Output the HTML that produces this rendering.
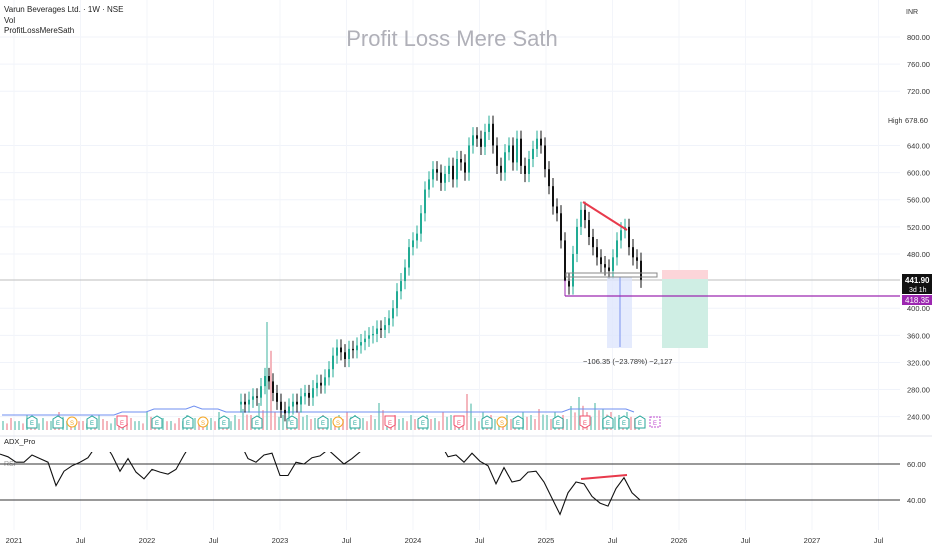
<!DOCTYPE html>
<html><head><meta charset="utf-8"><style>
body{margin:0;background:#fff;font-family:"Liberation Sans",sans-serif}
svg text{font-family:"Liberation Sans",sans-serif}
</style></head><body>
<svg id="c" width="932" height="550" viewBox="0 0 932 550">
<g id="grid"></g>
<text x="452" y="46" font-size="22" fill="#b0b0b8" text-anchor="middle">Profit Loss Mere Sath</text>
<text x="4" y="12" font-size="8" fill="#222">Varun Beverages Ltd. · 1W · NSE</text>
<text x="4" y="23" font-size="8" fill="#222">Vol</text>
<text x="4" y="33" font-size="8" fill="#222">ProfitLossMereSath</text>
<text x="906" y="14" font-size="7" fill="#333">INR</text>
<g id="vol"></g><g id="price"></g><g id="rsi"></g><g id="axis"></g>
</svg>
<script>
const NS="http://www.w3.org/2000/svg";
const svg=document.getElementById('c');
function mk(tag,at,parent){const e=document.createElementNS(NS,tag);for(const k in at)e.setAttribute(k,at[k]);(parent||svg).appendChild(e);return e;}

// ---- data ----
const priceTicks=[800,760,720,640,600,560,520,480,400,360,320,280,240];
const timeLabels=["2021","Jul","2022","Jul","2023","Jul","2024","Jul","2025","Jul","2026","Jul","2027","Jul"];
const closes=[262,258,265,270,268,285,300,292,275,262,250,245,255,262,258,270,275,268,282,290,286,298,310,330,342,335,325,340,338,345,350,355,360,362,370,368,375,385,400,425,440,460,490,500,510,540,575,590,605,600,585,598,610,590,620,615,600,640,655,650,638,660,672,640,610,600,630,640,615,650,610,598,620,635,650,640,605,580,550,540,500,440,432,480,520,545,530,505,490,475,465,460,455,475,500,515,520,490,475,470,442];
const volumes=[3,4,3,5,3,4,3,6,3,4,3,4,5,3,4,3,4,3,6,3,4,3,4,5,4,3,4,6,4,5,7,5,9,36,6,5,4,6,5,4,5,4,5,6,5,4,5,9,4,5,4,5,4,5,4,6,5,4,12,4,6,5,4,5,4,6,5,7,5,6,5,8,11,6,9,7,6,5,6,4];
const volMA=[5,5,5,5,5,5,5,5,5,5,5,5,5,5,5,6,6,6,6,7,7,7,7,7,8,7,7,7,6,6,6,6,6,6,6,6,6,6,6,6,6,6,6,6,6,6,6,6,6,6,6,6,6,6,6,6,6,6,6,6,6,6,6,6,6,6,6,6,6,6,6,7,7,7,7,7,7,7,7,6];
const rsi=[65.5,64,61,61,65,63,61,48,56,59,61,63.5,70,72,65,56,63,55.5,51.7,57,55.5,54.4,57,65,72,72,72,72,72,72,72,63,61,65,66,53.6,53.6,61,60,63.5,64.5,68,64,60,63,66.7,72,72,72,72,72,72,72,72,72,72,64,65,61,66,61.5,59,49,58,50,51,55.5,56,50,41,32,44,50,49,42,38.3,36.6,46.4,52.4,44,40];
const events=[[32,"E"],[58,"E"],[72,"S"],[92,"E"],[122,"R"],[157,"E"],[188,"E"],[203,"S"],[224,"E"],[257,"E"],[292,"E"],[323,"E"],[338,"S"],[355,"E"],[390,"R"],[423,"E"],[459,"R"],[487,"E"],[502,"S"],[518,"E"],[558,"E"],[585,"R"],[608,"E"],[624,"E"],[640,"E"]];

// ---- axes ----
const py=v=>37+(800-v)*0.678;
const px=i=>240+4*i;
const ry=v=>500-(v-40)*1.8;
const rx=i=>8*i;

const grid=document.getElementById('grid');
priceTicks.forEach(t=>{const l=mk('line',{x1:0,x2:900,y1:py(t),y2:py(t),stroke:'#f0f3fa'},grid);});
timeLabels.forEach((t,i)=>{const x=14+i*66.5;const l=mk('line',{x1:x,x2:x,y1:0,y2:530,stroke:'#f3f5fa'},grid);});

const axis=document.getElementById('axis');
priceTicks.forEach(t=>{const e=mk('text',{x:907,y:py(t)+3,'font-size':7.5,fill:'#333'},axis);e.textContent=t.toFixed(2);});
timeLabels.forEach((t,i)=>{const e=mk('text',{x:14+i*66.5,y:543,'font-size':7.5,fill:'#333','text-anchor':'middle'},axis);e.textContent=t;});

// ---- volume ----
const vg=document.getElementById('vol');
volumes.forEach((v,i)=>{const x=2+8*i;const up=i%3!==1;const b=mk('rect',{x:x,y:430-v*3,width:2,height:v*3,fill:up?'#9fd9cf':'#f4b6bd'},vg);
 const b2=mk('rect',{x:x+4,y:430-v*2.2,width:2,height:v*2.2,fill:up?'#f4b6bd':'#9fd9cf'},vg);});
let d='';volMA.forEach((v,i)=>{d+=(i?'L':'M')+(2+8*i)+' '+(430-v*3);});
const ma=mk('path',{d:d,fill:'none',stroke:'#6f8ff0','stroke-width':1},vg);
events.forEach(([x,k])=>{const col=k==='S'?'#f5a623':(k==='R'?'#f0506e':'#26a69a');
 let e;if(k==='S'){e=mk('circle',{cx:x,cy:422,r:5,fill:'#fff',stroke:col},vg);}else{e=mk('path',{d:k==='R'?`M${x-5} 416h10v9l-5 3l-5 -3z`:`M${x-5} 419l5 -3l5 3v9h-10z`,fill:'#fff',stroke:col},vg);}
 
 const t=mk('text',{x:x,y:425,'font-size':6,fill:col,'text-anchor':'middle'},vg);t.textContent=k==='S'?'S':'E';});
const pe=mk('path',{d:'M650 417h10v10h-10z',fill:'#fff',stroke:'#c050d0','stroke-dasharray':'2 1'},vg);
mk('text',{x:655,y:425,'font-size':6,fill:'#c050d0','text-anchor':'middle'},vg).textContent='E';

// ---- price ----
const pg=document.getElementById('price');
mk('line',{x1:0,x2:900,y1:280,y2:280,stroke:'#bdbdbd'},pg);
closes.forEach((c,i)=>{const o=i?closes[i-1]:c-4;const up=c>=o;const col=up?'#22ab94':'#111';const hi=Math.max(o,c)+12,lo=Math.min(o,c)-12;const x=px(i);
 const w=mk('line',{x1:x+1,x2:x+1,y1:py(hi),y2:py(lo),stroke:col,'stroke-width':1},pg);
 const b=mk('rect',{x:x,y:py(Math.max(o,c)),width:2,height:Math.max(1,Math.abs(py(o)-py(c))),fill:col},pg);});
// drawings
mk('rect',{x:607,y:277,width:25,height:71,fill:'#dfe6fd',opacity:0.8},pg);
mk('line',{x1:620,x2:620,y1:277,y2:347,stroke:'#7b93f0'},pg);
mk('rect',{x:662,y:270,width:46,height:9,fill:'#fcd5d9'},pg);
mk('rect',{x:662,y:279,width:46,height:69,fill:'#cfeee4'},pg);
mk('rect',{x:566,y:273,width:91,height:4,fill:'none',stroke:'#888'},pg);
mk('line',{x1:583,y1:202,x2:627,y2:230,stroke:'#e83a4c','stroke-width':2},pg);
mk('line',{x1:565,x2:900,y1:296,y2:296,stroke:'#9c27b0','stroke-width':1.3},pg);
mk('line',{x1:565,x2:565,y1:280,y2:296,stroke:'#9c27b0'},pg);
const mt=mk('text',{x:583,y:364,'font-size':7.5,fill:'#333'},pg);mt.textContent='−106.35 (−23.78%) −2,127';
// badges
mk('rect',{x:886,y:115,width:16,height:10,fill:'#fff'},pg);
mk('text',{x:888,y:123,'font-size':7,fill:'#333'},pg).textContent='High';
mk('text',{x:905,y:123,'font-size':7.5,fill:'#333'},pg).textContent='678.60';
const b1=mk('rect',{x:902,y:274,width:30,height:20,fill:'#111'},pg);
mk('text',{x:905,y:283,'font-size':8,fill:'#fff','font-weight':'bold'},pg).textContent='441.90';
mk('text',{x:909,y:292,'font-size':7,fill:'#fff'},pg).textContent='3d 1h';
const b2=mk('rect',{x:902,y:295,width:30,height:10,fill:'#9c27b0'},pg);
mk('text',{x:905,y:303,'font-size':8,fill:'#fff'},pg).textContent='418.35';

// ---- RSI pane ----
const rg=document.getElementById('rsi');
mk('line',{x1:0,x2:932,y1:436,y2:436,stroke:'#e0e3eb'},rg);
mk('text',{x:4,y:444,'font-size':7.5,fill:'#222'},rg).textContent='ADX_Pro';
mk('text',{x:4,y:466,'font-size':7,fill:'#999'},rg).textContent='RSI';
mk('line',{x1:0,x2:900,y1:ry(60),y2:ry(60),stroke:'#333','stroke-width':1},rg);
mk('line',{x1:0,x2:900,y1:ry(40),y2:ry(40),stroke:'#333','stroke-width':1},rg);
mk('text',{x:907,y:ry(60)+3,'font-size':7.5,fill:'#333'},rg).textContent='60.00';
mk('text',{x:907,y:ry(40)+3,'font-size':7.5,fill:'#333'},rg).textContent='40.00';
mk('clipPath',{id:'rc'},rg);mk('rect',{x:0,y:452,width:900,height:80},document.getElementById('rc'));
let rd='';rsi.forEach((v,i)=>{rd+=(i?'L':'M')+rx(i)+' '+ry(v).toFixed(1);});
const rl=mk('path',{d:rd,fill:'none',stroke:'#111','stroke-width':1.1,'clip-path':'url(#rc)'},rg);
mk('line',{x1:581,y1:479,x2:627,y2:475,stroke:'#e83a4c','stroke-width':2},rg);
</script>
</body></html>
